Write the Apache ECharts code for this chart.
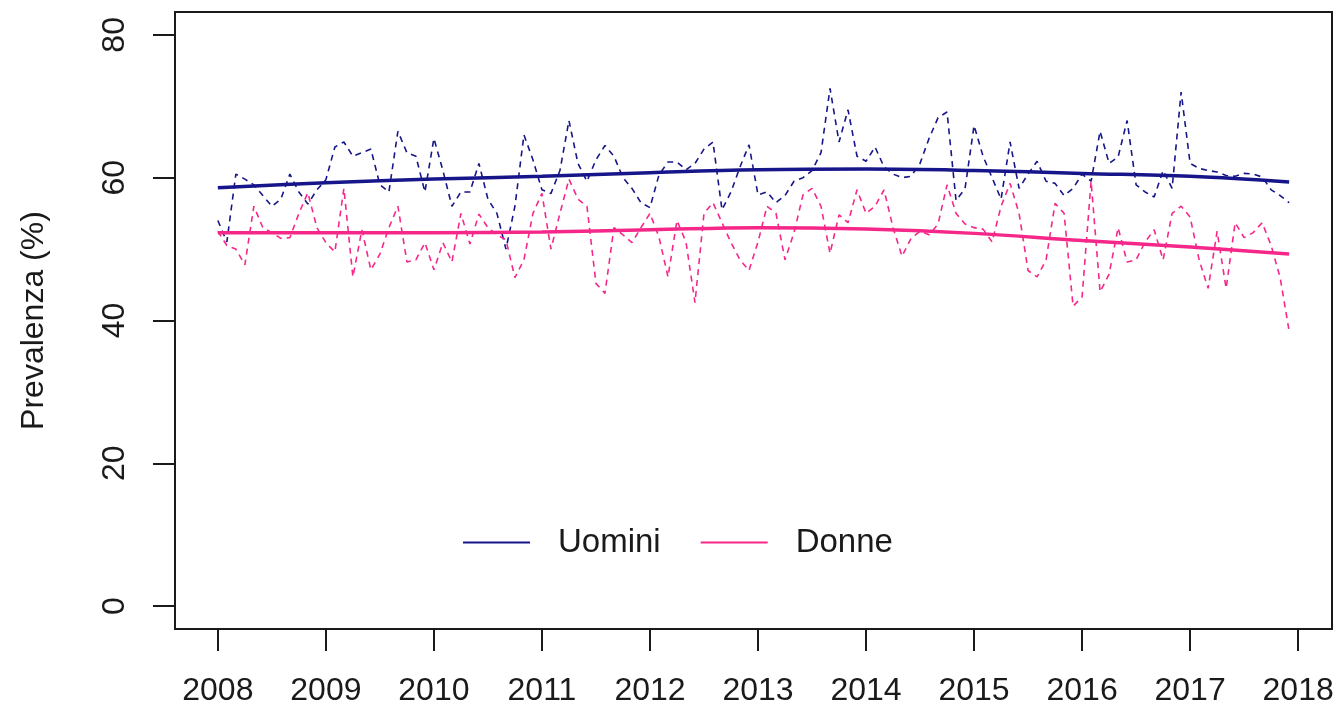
<!DOCTYPE html>
<html>
<head>
<meta charset="utf-8">
<script src="https://cdn.jsdelivr.net/npm/echarts@6/dist/echarts.min.js"></script>
<style>
  html, body { margin: 0; padding: 0; background: #fff; }
  #chart { width: 1340px; height: 708px; }
</style>
</head>
<body>
<div id="chart"></div>
<script>
// prevalenza mensile 2008-2017 (%)
var uomini = [
  54, 51, 60.5, 59.8, 59, 57.5, 56, 57, 60.5, 58, 56.3, 58.3,
  59.7, 64.3, 65, 63, 63.5, 64, 59, 58, 66.5, 63.5, 63, 58,
  65.5, 61, 56, 58, 58, 62, 57, 55, 50, 56, 66, 62.5,
  58.3, 57.8, 61, 68, 62, 59.5, 62.5, 64.5, 63, 60, 58.5, 56.5,
  55.8, 60.4, 62.2, 62.2, 61.1, 62, 64, 65, 55.5, 58, 61.5, 64.6,
  57.6, 58, 56.5, 57.5, 59.5, 60, 61, 63.5, 72.5, 65, 69.5, 63,
  62.3, 64.3, 61.5, 60.5, 60, 60.2, 62, 65.5, 68.4, 69.2, 56.8, 58.5,
  67.3, 63, 60, 57, 65, 58.5, 60.5, 62.3, 59.5, 59.2, 57.5, 58.5,
  60.5, 59.5, 66.5, 62, 62.9, 68, 59, 58, 57.3, 61, 58.5, 72,
  62, 61.3, 61, 60.8, 60.3, 60.2, 60.6, 60.5, 60.1, 58.3, 57.5, 56.5
];
var donne = [
  52.5, 50.5, 50, 47.8, 56, 53, 52.3, 51.5, 51.6, 55, 57.9, 53,
  50.9, 49.6, 58.5, 46.1, 52.7, 47.1, 49.3, 53, 56, 48.2, 48.5, 50.9,
  47.1, 50.9, 48.2, 55, 50.7, 54.9, 53, 52, 51.3, 46, 48.5, 55,
  57.8, 50, 55, 59.8, 57, 56, 45.2, 43.8, 53, 52, 50.9, 53,
  55, 51.7, 46.1, 54, 51, 42.5, 55, 56.5, 53.7, 50.9, 48.5, 47,
  51, 56, 55, 48.5, 52.3, 57.6, 58.5, 56, 49.4, 54.8, 53.7, 58.3,
  55, 56, 58.3, 53, 49, 51.5, 52.5, 52, 53.5, 59, 55, 53.5,
  53, 52.8, 51, 56, 59.2, 55, 47, 46.1, 48.5, 56.4, 55, 42,
  43.3, 59.5, 44, 46.5, 53, 48.2, 48.5, 51, 52.7, 48.5, 55, 56,
  54.5, 48.5, 44.5, 52.5, 44.5, 53.7, 51.6, 52.3, 53.7, 50.5, 46, 38.5
];
// curve di tendenza lisciate
var trendX = [2008, 2009, 2010, 2011, 2012, 2013, 2014, 2015, 2016, 2017, 2017 + 11 / 12];
var trendUomini = [58.6, 59.3, 59.8, 60.2, 60.7, 61.1, 61.2, 61.0, 60.6, 60.2, 59.4];
var trendDonne = [52.3, 52.3, 52.3, 52.4, 52.7, 53.0, 52.8, 52.2, 51.2, 50.3, 49.3];

var anni = [2008, 2009, 2010, 2011, 2012, 2013, 2014, 2015, 2016, 2017, 2018];
var yTicks = [0, 20, 40, 60, 80];

var blu = '#16168a';
var rosa = '#f5288a';
var nero = '#1a1a1a';
var font = "'Liberation Sans', Arial, sans-serif";

function mensile(arr) {
  return arr.map(function (v, i) { return [2008 + i / 12, v]; });
}
function coppie(xs, ys) {
  return xs.map(function (x, i) { return [x, ys[i]]; });
}

var chart = echarts.init(document.getElementById('chart'));

var option = {
  animation: false,
  backgroundColor: '#fff',
  textStyle: { fontFamily: font },
  grid: {
    left: 175, right: 8, top: 12, bottom: 79,
    show: true, borderColor: nero, borderWidth: 2, backgroundColor: 'transparent'
  },
  xAxis: {
    type: 'value',
    min: 2008 - 0.04 * (119 / 12),
    max: 2008 + 119 / 12 + 0.04 * (119 / 12),
    axisLine: { show: false, onZero: false },
    splitLine: { show: false },
    axisTick: {
      show: true, length: 22, customValues: anni,
      lineStyle: { color: nero, width: 2 }
    },
    axisLabel: {
      customValues: anni, margin: 46, fontSize: 32, color: nero, fontFamily: font,
      formatter: function (v) { return String(Math.round(v)); }
    }
  },
  yAxis: {
    type: 'value',
    min: -3.2, max: 83.2,
    name: 'Prevalenza (%)',
    nameLocation: 'middle',
    nameGap: 125,
    nameTextStyle: { fontSize: 32, color: nero, fontFamily: font },
    axisLine: { show: false, onZero: false },
    splitLine: { show: false },
    axisTick: {
      show: true, length: 22, customValues: yTicks,
      lineStyle: { color: nero, width: 2 }
    },
    axisLabel: {
      customValues: yTicks, rotate: 90, margin: 44, fontSize: 32, color: nero, fontFamily: font,
      formatter: function (v) { return String(Math.round(v)); }
    }
  },
  legend: {
    data: ['Uomini', 'Donne'],
    left: 463, top: 526,
    padding: 0,
    orient: 'horizontal',
    icon: 'rect',
    itemWidth: 67, itemHeight: 2, itemGap: 40,
    textStyle: { fontSize: 33, color: nero, fontFamily: font, padding: [0, 0, 0, 23] }
  },
  series: [
    {
      name: 'Uomini mensile', type: 'line', data: mensile(uomini),
      symbol: 'none', z: 2,
      lineStyle: { color: blu, width: 1.6, type: [6, 5] }
    },
    {
      name: 'Donne mensile', type: 'line', data: mensile(donne),
      symbol: 'none', z: 2,
      lineStyle: { color: rosa, width: 1.6, type: [6, 5] }
    },
    {
      name: 'Uomini', type: 'line', data: coppie(trendX, trendUomini),
      symbol: 'none', smooth: 0.4, z: 3, color: blu,
      lineStyle: { color: blu, width: 3.5 }
    },
    {
      name: 'Donne', type: 'line', data: coppie(trendX, trendDonne),
      symbol: 'none', smooth: 0.4, z: 3, color: rosa,
      lineStyle: { color: rosa, width: 3.5 }
    }
  ]
};

chart.setOption(option);
</script>
</body>
</html>
